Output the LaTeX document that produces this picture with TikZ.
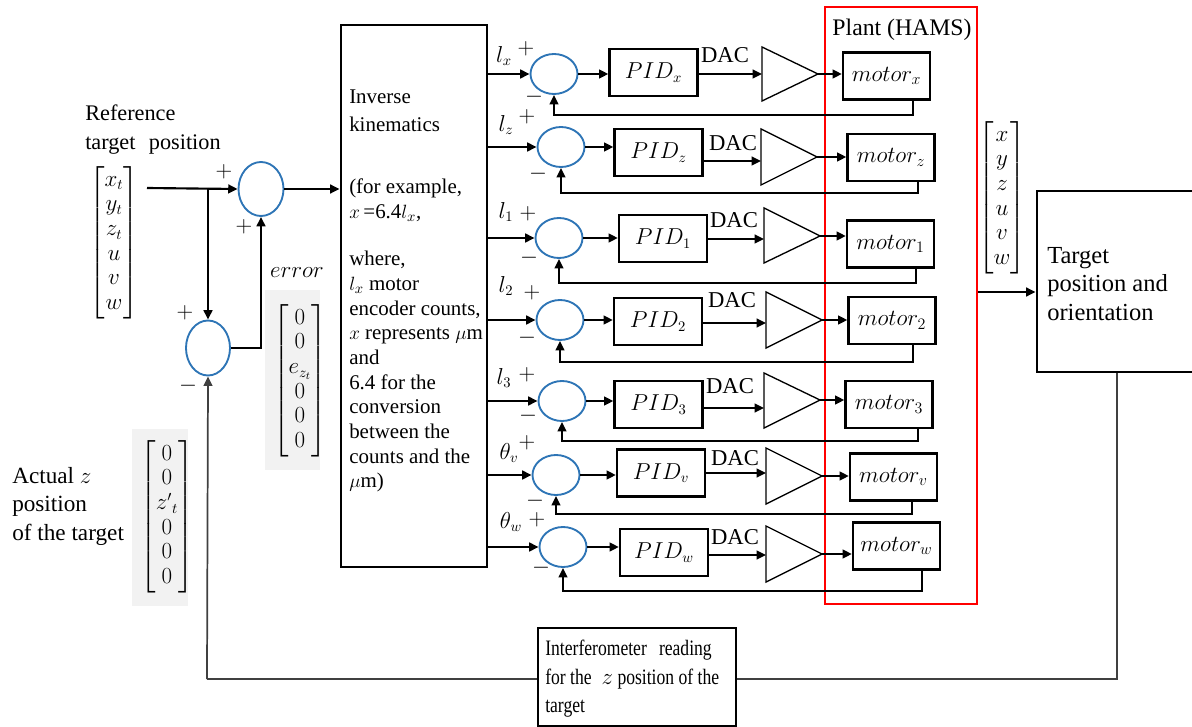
\documentclass[tikz,border=0pt]{standalone}
\usepackage{amsmath}
\usepackage{fontspec}
\setmainfont{Liberation Serif}
\newfontfamily\condensedserif{Liberation Serif}[FakeStretch=0.8]
\usetikzlibrary{arrows.meta,shapes.geometric}
\definecolor{sumblue}{RGB}{46,117,182}
\definecolor{lgray}{RGB}{242,242,242}
\definecolor{dgray}{RGB}{64,64,64}
\begin{document}
\begin{tikzpicture}[x=0.75pt,y=-0.75pt,
 every node/.style={font=\fontsize{16}{18.5}\selectfont, inner sep=0pt},
 sumnode/.style={draw=sumblue,line width=1.4pt,ellipse,minimum width=35.25pt,minimum height=30pt},
 pidbox/.style={draw,line width=1.7pt,minimum width=66pt,minimum height=35.25pt},
 motbox/.style={draw,line width=1.7pt,minimum width=65.25pt,minimum height=35.25pt,font=\fontsize{17}{19}\selectfont},
 ampst/.style={draw,line width=1pt,line join=miter},
 arr/.style={line width=1.6pt,-{Triangle[length=7pt,width=6.5pt]}},
 fbarr/.style={line width=1.3pt,-{Triangle[length=7pt,width=6.5pt]}},
 thinline/.style={draw=dgray,line width=1.1pt},
 graybg/.style={fill=lgray,draw=none},
 txt/.style={align=left},
 daclab/.style={font=\fontsize{17}{19}\selectfont}
]
\useasboundingbox (0,0) rectangle (1192,727);

% ---------- left part ----------
\node[txt,anchor=north west,font=\fontsize{16.7}{21.75}\selectfont] (reftxt) at (85,105) {Reference\\target\hspace{0.35em} position};
\node (refmat) at (114,243) {$\begin{bmatrix} x_t\\ y_t\\ z_t\\ u\\ v\\ w\end{bmatrix}$};
\coordinate (in) at (147,188);

\node[sumnode,minimum width=33.75pt,minimum height=40.5pt] (sum1) at (261,189) {};
\node[sumnode,minimum width=33pt,minimum height=41.25pt] (sum2) at (208,348) {};
\coordinate (br) at (208,188);

\node (p1a) at (224,172) {$+$};
\node (p1b) at (244,227) {$+$};
\node (p2a) at (185,313) {$+$};
\node (m2a) at (188,386) {$-$};

\node (errlab) at (297,273) {$error$};
\node[graybg,minimum width=41.25pt,minimum height=135pt] (errbg) at (292.5,380) {};
\node (errmat) at (300,381) {$\begin{bmatrix} 0\\ 0\\ e_{z_t}\\ 0\\ 0\\ 0\end{bmatrix}$};

\node[txt,anchor=north west,font=\fontsize{17.4}{21.4}\selectfont] (acttxt) at (12,467) {Actual $z$\\position\\of the target};
\node[graybg,minimum width=42pt,minimum height=132.75pt] (actbg) at (160,517.5) {};
\node (actmat) at (167,517) {$\begin{bmatrix} 0\\ 0\\ {z'}_t\\ 0\\ 0\\ 0\end{bmatrix}$};

\draw[arr] (in) -- (sum1.west);
\draw[arr] (br) -- (sum2.north);
\draw[arr] (sum2.east) -| (sum1.south);

% ---------- inverse kinematics ----------
\node[draw,line width=2.2pt,minimum width=109.5pt,minimum height=406.5pt] (ik) at (414,296) {};
\node[txt,anchor=north west,font=\fontsize{15.7}{18.5}\selectfont] (iktxt) at (349,90) {Inverse\\[2.5pt]kinematics\\[28pt](for example,\\$x$\,=6.4$l_x$,\\[17pt]where,\\$l_x$ motor\\encoder counts,\\$x$ represents $\mu$m\\and\\6.4 for the\\conversion\\between the\\counts and the\\$\mu$m)};
\draw[arr] (sum1.east) -- (sum1.east -| ik.west);

% ---------- plant ----------
\node[draw=red,line width=2pt,minimum width=114pt,minimum height=447.75pt] (plant) at (901,305.5) {};
\node[font=\fontsize{17.8}{20}\selectfont] (planttxt) at (902,30) {Plant (HAMS)};

% ---------- channels ----------
\foreach \i/\sub/\sx/\sy/\px/\py/\dy/\tx/\tt/\tb/\ty/\mx/\my/\fy/\fr in {
 1/x/554/74/653.5/72.5/74/762/47/101/74/886.5/76/115/913,
 2/z/561/147/658.5/152.5/161/761/129/185/157/891/157.5/193/918,
 3/1/559/238/663/238.5/239/764/208/263/236/890.5/244/283/916,
 4/2/560/320/658/321.5/323/766/292/348/320/892/320.5/362/913,
 5/3/562/401/658.5/404.5/408/764/373/428/400/889/404.5/441/918,
 6/v/556/475/661/473/473/766/448/504/476/893.5/477/514/912,
 7/w/563/547/664/552.5/555/766/526/582/554/896.5/546/591/922}
{
 \node[sumnode] (s\i) at (\sx,\sy) {};
 \node[pidbox] (pid\i) at (\px,\py) {$PID_{\sub}$};
 \node[motbox] (mot\i) at (\mx,\my) {$motor_{\sub}$};
 \draw[ampst] (\tx,\tt) -- (\tx+56,\ty) -- (\tx,\tb) -- cycle;
 \coordinate (tip\i) at (\tx+56,\ty);
 \coordinate (ampin\i) at (\tx,\dy);
 \draw[arr] (ik.east |- s\i.west) -- (s\i.west);
 \draw[arr] (s\i.east) -- (s\i.east -| pid\i.west);
 \draw[arr] (pid\i.east |- ampin\i) -- (ampin\i);
 \draw[arr] (tip\i) -- (tip\i -| mot\i.west);
 \coordinate (fbr\i) at (\fr,\fy);
 \draw[fbarr] (mot\i.south -| fbr\i) -- (fbr\i) -| (s\i.south);
}

\foreach \lab/\lx/\ly/\ax/\ay/\bx/\by [count=\i] in {
 $l_x$/504/56/526/49/534/97,
 $l_z$/506/125/527/117/538/174,
 $l_1$/506/212/528/214/529/258,
 $l_2$/506/286/532/293/527/338,
 $l_3$/504/378/527/375/528/416,
 $\theta_v$/509/453/527/443/535/501,
 $\theta_w$/511/522/537/520/541/568}
{
 \node (lab\i) at (\lx,\ly) {\lab};
 \node (plus\i) at (\ax,\ay) {$+$};
 \node (minus\i) at (\bx,\by) {$-$};
}

\foreach \x/\y [count=\i] in {725/55,733/143,734/220,732/300,730/386,735/458,735/537}
 \node[daclab] (dac\i) at (\x,\y) {DAC};

% ---------- output ----------
\node (outmat) at (1002,198) {$\begin{bmatrix} x\\ y\\ z\\ u\\ v\\ w\end{bmatrix}$};
\node[draw,line width=2.2pt,minimum width=119.25pt,minimum height=135.75pt] (target) at (1116.5,281.5) {};
\node[txt,anchor=north west,font=\fontsize{18.4}{21.4}\selectfont] (targettxt) at (1047,247) {Target\\position and\\orientation};
\draw[arr] (plant.east |- 0,292) -- (target.west |- 0,292);

% ---------- interferometer loop ----------
\node[draw,line width=1.5pt,minimum width=148.5pt,minimum height=73.5pt] (interf) at (637,677) {};
\node[txt,anchor=north west,font=\condensedserif\fontsize{16.5}{21.4}\selectfont] (interftxt) at (545,640) {Interferometer\hspace{0.35em} reading\\for the\hspace{0.45em}$z$ position of the\\target};
\coordinate (cr) at (1117,679);
\coordinate (cl) at (207,679);
\draw[thinline] (target.south -| cr) -- (cr) -- (interf.east |- cr);
\draw[thinline] (interf.west |- cl) -- (cl);
\draw[fbarr,draw=dgray] (cl) -- (sum2.south);
\end{tikzpicture}
\end{document}
